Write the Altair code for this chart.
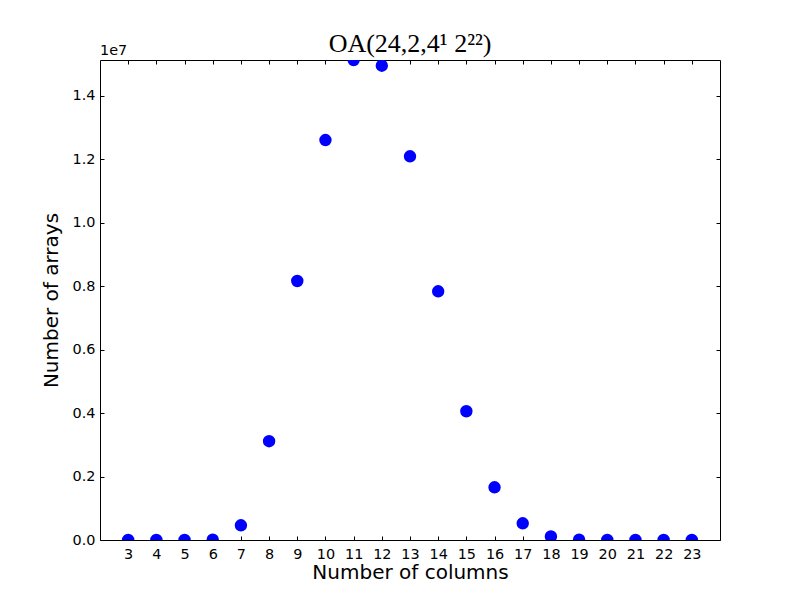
import altair as alt
import pandas as pd

# ---- data ----
columns = list(range(3, 24))
arrays = [0, 0, 0, 10000, 464000, 3115000, 8167000, 12612000, 15135000, 14955000,
          12098000, 7842000, 4060000, 1662000, 527000, 110000, 8000, 0, 0, 0, 0]
x_tick_values = list(range(3, 24))
y_tick_values = [0, 2000000, 4000000, 6000000, 8000000, 10000000, 12000000, 14000000]
title_text = ["OA(24,2,4¹ 2²²)"]
x_title = "Number of columns"
y_title = "Number of arrays"
offset_label = ["1e7"]

df = pd.DataFrame({"columns": columns, "arrays": arrays})

FONT = "DejaVu Sans"
LABEL_SIZE = 14.4
TITLE_SIZE = 20
W, H = 620, 480

xs = alt.Scale(domain=[2, 24], nice=False, zero=False)
ys = alt.Scale(domain=[0, max(arrays)], nice=False, zero=True)


def tick_only(orient, values):
    return alt.Axis(orient=orient, labels=False, title=None, domain=False, grid=False,
                    ticks=True, tickSize=4, tickColor="black", tickWidth=1,
                    offset=-4, values=values)


points = alt.Chart(df).mark_circle(size=154, color="#0000ff", opacity=1, clip=True).encode(
    x=alt.X("columns:Q", scale=xs,
            axis=alt.Axis(orient="bottom", values=x_tick_values, ticks=False, domain=False,
                          grid=False, labelFont=FONT, labelFontSize=LABEL_SIZE,
                          labelColor="black", labelPadding=7, labelOverlap=False,
                          title=x_title,
                          titleFont=FONT, titleFontSize=TITLE_SIZE, titleFontWeight="normal",
                          titleColor="black", titlePadding=2)),
    y=alt.Y("arrays:Q", scale=ys,
            axis=alt.Axis(orient="left", values=y_tick_values, ticks=False, domain=False,
                          grid=False, labelFont=FONT, labelFontSize=LABEL_SIZE,
                          labelColor="black", labelPadding=5, labelOverlap=False,
                          labelExpr="format(datum.value / 10000000, '.1f')",
                          title=y_title, titleFont=FONT, titleFontSize=TITLE_SIZE,
                          titleFontWeight="normal", titleColor="black", titlePadding=11)),
)

ticks_bl = alt.Chart(df).mark_point(opacity=0, clip=True).encode(
    x=alt.X("columns:Q", scale=xs, axis=tick_only("bottom", x_tick_values)),
    y=alt.Y("arrays:Q", scale=ys, axis=tick_only("left", y_tick_values)),
)

ticks_tr = alt.Chart(df).mark_point(opacity=0, clip=True).encode(
    x=alt.X("columns:Q", scale=xs, axis=tick_only("top", x_tick_values)),
    y=alt.Y("arrays:Q", scale=ys, axis=tick_only("right", y_tick_values)),
)

offset_text = alt.Chart(pd.DataFrame({"t": offset_label})).mark_text(
    align="left", baseline="alphabetic", font=FONT, fontSize=LABEL_SIZE, color="black"
).encode(x=alt.value(0), y=alt.value(-5), text="t:N")

title_mark = alt.Chart(pd.DataFrame({"t": title_text})).mark_text(
    align="center", baseline="alphabetic", font="Liberation Serif", fontSize=26,
    color="black"
).encode(x=alt.value(W / 2), y=alt.value(-8), text="t:N")

chart = alt.layer(points, ticks_bl, ticks_tr, offset_text, title_mark).resolve_axis(
    x="independent", y="independent"
).properties(
    width=W,
    height=H,
    autosize=alt.AutoSizeParams(type="none"),
    padding={"left": 92, "top": 52, "right": 72, "bottom": 44},
).configure(background="white").configure_view(stroke="black", strokeWidth=1)

chart.save("out.html", embed_options={"renderer": "svg", "actions": False})
